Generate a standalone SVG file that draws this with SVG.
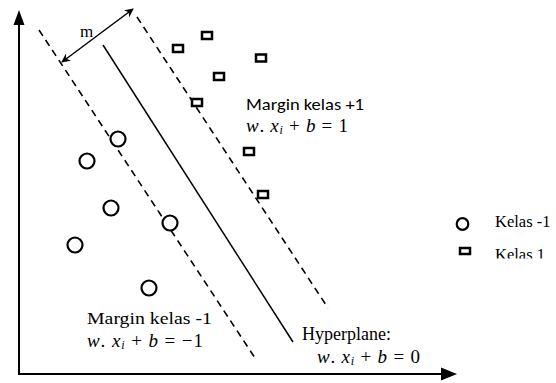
<svg xmlns="http://www.w3.org/2000/svg" width="556" height="383" viewBox="0 0 556 383">
<style>
.axis{stroke:#000;stroke-width:2;fill:none}
.dash{stroke:#000;stroke-width:1.6;stroke-dasharray:7 5;fill:none}
.solid{stroke:#000;stroke-width:1.5;fill:none}
.c{fill:#fff;stroke:#000;stroke-width:2.2}
.s{fill:#fff;stroke:#000;stroke-width:2.5}
.tr{font-family:"Liberation Serif","Times New Roman",serif;fill:#000}
.sa{font-family:"Carlito","Liberation Sans",Arial,sans-serif;fill:#000}
.m{font-family:"Liberation Serif","DejaVu Serif",serif;fill:#000}
.it{font-style:italic}
</style>
<defs>
<marker id="ah" viewBox="0 0 10 10" refX="9" refY="5" markerWidth="9" markerHeight="9" orient="auto-start-reverse" markerUnits="userSpaceOnUse">
<path d="M0,0 L10,5 L0,10 L3,5 z" fill="#000"/>
</marker>
<clipPath id="legclip"><rect x="400" y="200" width="156" height="58.5"/></clipPath>
</defs>
<g id="connectors">
<line class="axis" x1="19" y1="24" x2="19" y2="374"/>
<polygon points="19,10 13.5,25 24.5,25" fill="#000"/>
<line class="axis" x1="18" y1="374" x2="442" y2="374"/>
<polygon points="457,374 441,367.5 441,380.5" fill="#000"/>
<line class="dash" x1="39" y1="30" x2="255" y2="358"/>
<line class="dash" x1="137" y1="17" x2="328" y2="308"/>
<line class="solid" x1="103" y1="45" x2="293" y2="342"/>
<line class="solid" x1="62" y1="62" x2="133" y2="9" marker-start="url(#ah)" marker-end="url(#ah)"/>
</g>
<g id="label-m"><text class="tr" x="80" y="37" font-size="17">m</text></g>
<g id="class-plus">
<rect class="s" x="173" y="45" width="10" height="7"/>
<rect class="s" x="202" y="32" width="10" height="7"/>
<rect class="s" x="256" y="54.5" width="10" height="7"/>
<rect class="s" x="214" y="73" width="10" height="7"/>
<rect class="s" x="192" y="99" width="10" height="7"/>
<rect class="s" x="244" y="148" width="10" height="7"/>
<rect class="s" x="258" y="191" width="10" height="7"/>
</g>
<g id="class-minus">
<circle class="c" cx="118" cy="139" r="7.5"/>
<circle class="c" cx="87" cy="161" r="7.5"/>
<circle class="c" cx="111" cy="208" r="7.5"/>
<circle class="c" cx="170" cy="223" r="7.5"/>
<circle class="c" cx="75" cy="245" r="7.5"/>
<circle class="c" cx="149" cy="288" r="7.5"/>
</g>
<g id="label-margin-plus">
<text class="sa" x="246" y="110" font-size="16" textLength="118" lengthAdjust="spacingAndGlyphs">Margin kelas +1</text>
<text class="m" x="246" y="132" font-size="19" textLength="102" lengthAdjust="spacing"><tspan class="it">w</tspan>. <tspan class="it">x</tspan><tspan class="it" font-size="12" dy="2">i</tspan><tspan dy="-2"> + </tspan><tspan class="it">b</tspan> = 1</text>
</g>
<g id="label-margin-minus">
<text class="tr" x="87" y="324" font-size="17" textLength="125" lengthAdjust="spacingAndGlyphs">Margin kelas -1</text>
<text class="m" x="87" y="347" font-size="19" textLength="116" lengthAdjust="spacing"><tspan class="it">w</tspan>. <tspan class="it">x</tspan><tspan class="it" font-size="12" dy="2">i</tspan><tspan dy="-2"> + </tspan><tspan class="it">b</tspan> = −1</text>
</g>
<g id="label-hyperplane">
<text class="tr" x="302" y="340" font-size="18">Hyperplane:</text>
<text class="m" x="317" y="363" font-size="19" textLength="103" lengthAdjust="spacing"><tspan class="it">w</tspan>. <tspan class="it">x</tspan><tspan class="it" font-size="12" dy="2">i</tspan><tspan dy="-2"> + </tspan><tspan class="it">b</tspan> = 0</text>
</g>
<g id="legend" clip-path="url(#legclip)">
<circle class="c" cx="462.5" cy="224" r="5.8"/>
<text class="tr" x="495" y="227" font-size="16.5">Kelas -1</text>
<rect class="s" x="460" y="248" width="10" height="6"/>
<text class="tr" x="495" y="259.5" font-size="16.5">Kelas 1</text>
</g>
</svg>
